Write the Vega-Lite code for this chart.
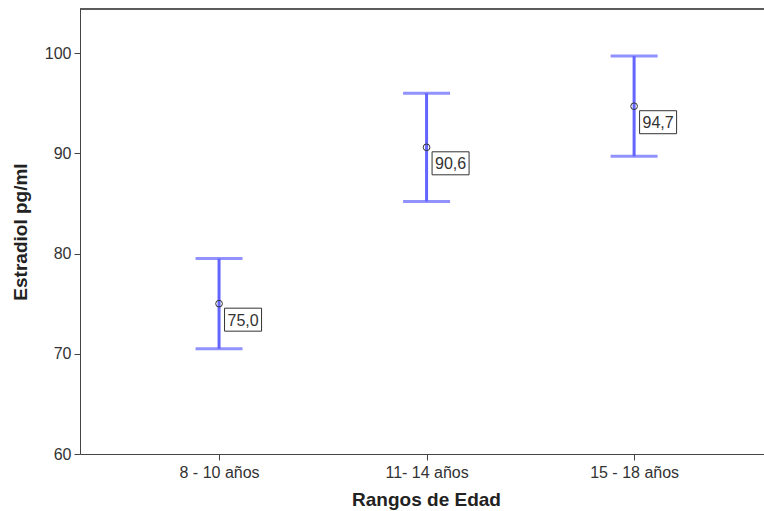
{
  "$schema": "https://vega.github.io/schema/vega-lite/v6.json",
  "autosize": {"type": "none"},
  "padding": {"left": 80, "top": 9, "right": 0, "bottom": 57},
  "width": 684,
  "height": 445,
  "background": "white",
  "config": {
    "font": "Liberation Sans",
    "view": {"stroke": null},
    "axis": {
      "grid": false,
      "domainColor": "#444444",
      "tickColor": "#444444",
      "tickSize": 6,
      "labelFont": "Liberation Sans",
      "labelFontSize": 16,
      "labelColor": "#333333",
      "titleFont": "Liberation Sans",
      "titleFontSize": 19,
      "titleFontWeight": "bold",
      "titleColor": "#222222"
    }
  },
  "data": {
    "values": [
      {"grupo": "8 - 10 años", "media": 75.0, "lo": 70.5, "hi": 79.5, "etiqueta": "75,0"},
      {"grupo": "11- 14 años", "media": 90.6, "lo": 85.2, "hi": 96.0, "etiqueta": "90,6"},
      {"grupo": "15 - 18 años", "media": 94.7, "lo": 89.7, "hi": 99.7, "etiqueta": "94,7"}
    ]
  },
  "layer": [
    {
      "mark": {"type": "rule", "color": "#444444", "strokeWidth": 1},
      "encoding": {
        "y": {"datum": 104.4, "type": "quantitative"}
      }
    },
    {
      "mark": {"type": "rule", "color": "#6464ff", "strokeWidth": 3},
      "encoding": {
        "x": {
          "field": "grupo",
          "type": "nominal",
          "sort": null,
          "scale": {"type": "point", "padding": 0.648, "align": 0.517},
          "axis": {"title": "Rangos de Edad", "labelAngle": 0, "labelPadding": 4, "titleX": 346, "titleY": 45, "titleBaseline": "middle", "titleAnchor": "middle"}
        },
        "y": {"field": "lo", "type": "quantitative", "scale": {"domain": [60, 104.4], "nice": false, "zero": false},
          "axis": {"title": "Estradiol pg/ml", "values": [60, 70, 80, 90, 100], "labelPadding": 3, "titleX": -60, "titleBaseline": "middle"}},
        "y2": {"field": "hi"}
      }
    },
    {
      "mark": {"type": "tick", "color": "#6464ff", "thickness": 3, "size": 47, "orient": "horizontal"},
      "encoding": {"x": {"field": "grupo", "type": "nominal", "sort": null}, "y": {"field": "lo", "type": "quantitative"}}
    },
    {
      "mark": {"type": "tick", "color": "#6464ff", "thickness": 3, "size": 47, "orient": "horizontal"},
      "encoding": {"x": {"field": "grupo", "type": "nominal", "sort": null}, "y": {"field": "hi", "type": "quantitative"}}
    },
    {
      "mark": {"type": "point", "filled": false, "shape": "circle", "size": 45, "stroke": "#333333", "strokeWidth": 1, "opacity": 1},
      "encoding": {"x": {"field": "grupo", "type": "nominal", "sort": null}, "y": {"field": "media", "type": "quantitative"}}
    },
    {
      "mark": {"type": "point", "shape": "M-1.609,-1L1.609,-1L1.609,1L-1.609,1Z", "size": 529, "filled": true, "fill": "white", "stroke": "#333333", "strokeWidth": 1, "opacity": 1, "fillOpacity": 1, "xOffset": 24, "yOffset": 16},
      "encoding": {"x": {"field": "grupo", "type": "nominal", "sort": null}, "y": {"field": "media", "type": "quantitative"}}
    },
    {
      "mark": {"type": "text", "fontSize": 16, "color": "#333333", "align": "center", "baseline": "middle", "dx": 24, "dy": 17},
      "encoding": {"x": {"field": "grupo", "type": "nominal", "sort": null}, "y": {"field": "media", "type": "quantitative"}, "text": {"field": "etiqueta"}}
    }
  ]
}
